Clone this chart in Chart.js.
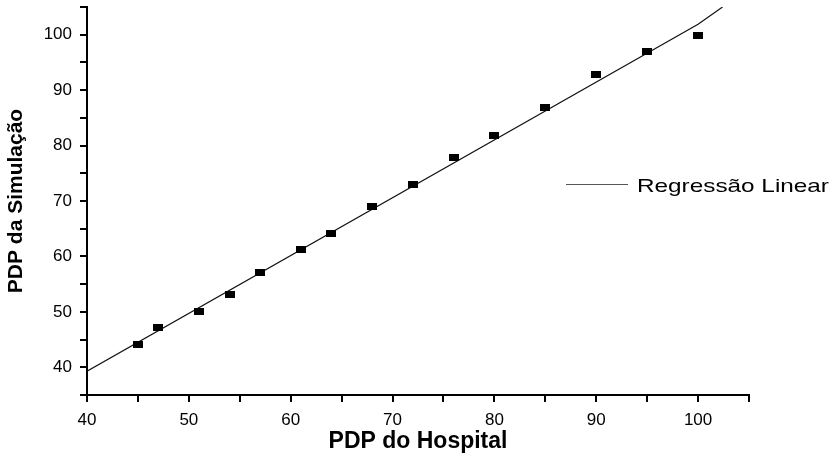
<!DOCTYPE html>
<html><head><meta charset="utf-8">
<script src="https://cdn.jsdelivr.net/npm/chart.js@4/dist/chart.umd.min.js"></script>
<style>html,body{margin:0;padding:0;background:#fff;}#wrap{width:835px;height:456px;position:relative}</style>
</head><body><div id="wrap"><canvas id="c" width="835" height="456"></canvas></div>
<script>
// Data
const hospitalPDP   = [45, 47, 51, 54, 57, 61, 64, 68, 72, 76, 80, 85, 90, 95, 100];
const simulationPDP = [44.2, 47.2, 50.1, 53.1, 57.1, 61.2, 64.1, 69.0, 73.0, 77.9, 81.9, 86.9, 92.8, 97.0, 99.9];
const regressionX = [40, 100, 102.4];
const regressionY = [39.3, 101.9, 105.0];
const xTickLabels = [40, 50, 60, 70, 80, 90, 100];
const yTickLabels = [40, 50, 60, 70, 80, 90, 100];
const xAxisTitle = 'PDP do Hospital';
const yAxisTitle = 'PDP da Simulação';
const legendLabel = 'Regressão Linear';

const FONT = "'Liberation Sans', Arial, Helvetica, sans-serif";
Chart.defaults.font.family = FONT;
Chart.defaults.color = '#000';

function makeMarker() {
  const c = document.createElement('canvas');
  c.width = 10; c.height = 7;
  const g = c.getContext('2d');
  g.fillStyle = '#000';
  g.fillRect(0, 0, 10, 7);
  return c;
}

const legendPlugin = {
  id: 'manualLegend',
  afterDraw(chart) {
    const ctx = chart.ctx;
    ctx.save();
    ctx.strokeStyle = '#555';
    ctx.lineWidth = 1;
    ctx.beginPath();
    ctx.moveTo(566, 184.5);
    ctx.lineTo(628, 184.5);
    ctx.stroke();
    ctx.fillStyle = '#000';
    ctx.font = '19px ' + FONT;
    ctx.textBaseline = 'alphabetic';
    ctx.translate(637, 192);
    ctx.scale(1.28, 1);
    ctx.fillText(legendLabel, 0, 0);
    ctx.restore();
  }
};

const scatterData = hospitalPDP.map((x, i) => ({ x, y: simulationPDP[i] }));
const lineData = regressionX.map((x, i) => ({ x, y: regressionY[i] }));

new Chart(document.getElementById('c'), {
  type: 'scatter',
  data: {
    datasets: [
      {
        type: 'line',
        label: legendLabel,
        data: lineData,
        borderColor: '#111',
        borderWidth: 1.2,
        pointRadius: 0,
        fill: false,
        tension: 0,
        order: 2
      },
      {
        label: 'Dados',
        data: scatterData,
        pointStyle: makeMarker(),
        pointRadius: 5,
        pointHoverRadius: 5,
        backgroundColor: '#000',
        borderColor: '#000',
        order: 1
      }
    ]
  },
  options: {
    responsive: false,
    animation: false,
    devicePixelRatio: 1,
    layout: { padding: { left: 0, right: 86, top: 7, bottom: 0 } },
    plugins: { legend: { display: false }, tooltip: { enabled: false } },
    scales: {
      x: {
        type: 'linear',
        min: 40, max: 105,
        afterFit: s => { s.height = 61; s.paddingRight = 0; },
        ticks: {
          stepSize: 5, autoSkip: false, maxRotation: 0, padding: 8,
          font: { size: 17 }, color: '#000',
          callback: v => xTickLabels.includes(v) ? String(v) : ''
        },
        grid: { drawOnChartArea: false, drawTicks: true, tickLength: 7, color: '#000', lineWidth: 2 },
        border: { display: true, color: '#000', width: 2 },
        title: { display: true, text: xAxisTitle, font: { size: 23, weight: 'bold' }, color: '#000', padding: { top: 0, bottom: 1 } }
      },
      y: {
        type: 'linear',
        min: 35, max: 105,
        afterFit: s => { s.width = 87; s.paddingTop = 0; s.paddingBottom = 0; },
        ticks: {
          stepSize: 5, autoSkip: false, padding: 8,
          font: { size: 17 }, color: '#000',
          callback: v => yTickLabels.includes(v) ? String(v) : ''
        },
        grid: { drawOnChartArea: false, drawTicks: true, tickLength: 7, color: '#000', lineWidth: 2 },
        border: { display: true, color: '#000', width: 2 },
        title: { display: true, text: yAxisTitle, font: { size: 21, weight: 'bold' }, color: '#000', padding: { top: 4, bottom: 0 } }
      }
    }
  },
  plugins: [legendPlugin]
});
</script>
</body></html>
